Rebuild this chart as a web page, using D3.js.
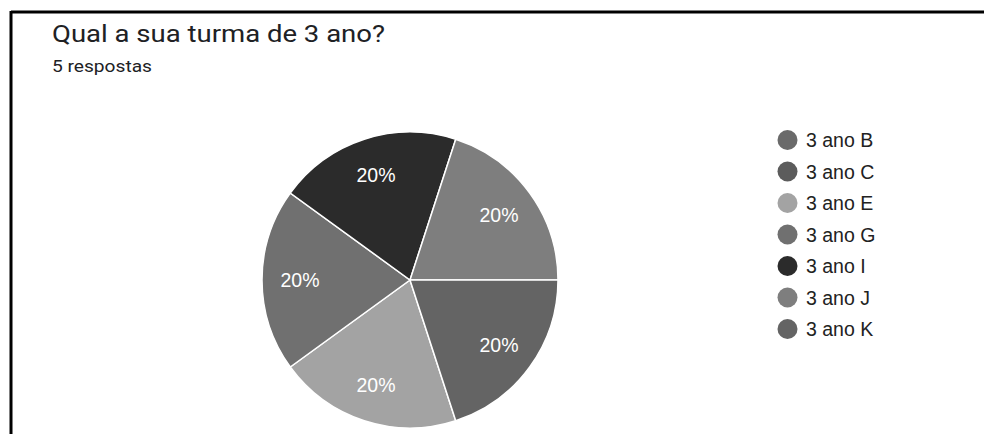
<!DOCTYPE html>
<html><head><meta charset="utf-8">
<script src="https://cdn.jsdelivr.net/npm/d3@7"></script>
<style>html,body{margin:0;padding:0;background:#fff;}</style>
</head><body>
<svg id="c" width="984" height="434"></svg>
<script>
const title = "Qual a sua turma de 3 ano?";
const subtitle = "5 respostas";
const categories = ["3 ano B","3 ano C","3 ano E","3 ano G","3 ano I","3 ano J","3 ano K"];
const counts = [0,0,1,1,1,1,1];
const colors = ["#6a6a6a","#5c5c5c","#a3a3a3","#707070","#2b2b2b","#7e7e7e","#646464"];

const svg = d3.select("#c");
// frame
svg.append("line").attr("x1",11).attr("y1",12).attr("x2",984).attr("y2",12).attr("stroke","#000").attr("stroke-width",3);
svg.append("line").attr("x1",11).attr("y1",11).attr("x2",11).attr("y2",434).attr("stroke","#000").attr("stroke-width",3);

svg.append("text").attr("x",52).attr("y",42).attr("font-family","Roboto, 'Open Sans', sans-serif")
  .attr("font-size",24).attr("fill","#202124")
  .attr("textLength",333).attr("lengthAdjust","spacingAndGlyphs").text(title);
svg.append("text").attr("x",52).attr("y",72).attr("font-family","Roboto, sans-serif")
  .attr("font-size",16.5).attr("fill","#202124")
  .attr("textLength",100).attr("lengthAdjust","spacingAndGlyphs").text(subtitle);

const total = d3.sum(counts);
const data = categories.map((c,i)=>({cat:c,v:counts[i],col:colors[i]}));
const start = 162*Math.PI/180;
const pie = d3.pie().value(d=>d.v).sort(null).startAngle(start).endAngle(start+2*Math.PI);
const r = 148;
const arc = d3.arc().innerRadius(0).outerRadius(r);
const labelArc = d3.arc().innerRadius(110).outerRadius(110);
const g = svg.append("g").attr("transform","translate(410,280)");
const arcs = pie(data).filter(d=>d.data.v>0);
g.selectAll("path").data(arcs).join("path").attr("d",arc).attr("fill",d=>d.data.col)
  .attr("stroke","#fff").attr("stroke-width",1.5);
g.selectAll("text").data(arcs).join("text")
  .attr("transform",d=>`translate(${labelArc.centroid(d)})`)
  .attr("text-anchor","middle").attr("dy","0.36em")
  .attr("font-family","Arial, 'Liberation Sans', sans-serif").attr("font-size",19.5).attr("fill","#fff")
  .text(d=>d3.format(".0%")(d.data.v/total));

const leg = svg.append("g");
const ly = d3.scalePoint().domain(categories).range([140,329]);
const items = leg.selectAll("g").data(data).join("g").attr("transform",d=>`translate(0,${ly(d.cat)})`);
items.append("circle").attr("cx",787.5).attr("cy",0).attr("r",10).attr("fill",d=>d.col);
items.append("text").attr("x",806).attr("y",0).attr("dy","0.36em")
  .attr("font-family","Arial, 'Liberation Sans', sans-serif").attr("font-size",19.5).attr("fill","#222")
  .text(d=>d.cat);
</script>
</body></html>
